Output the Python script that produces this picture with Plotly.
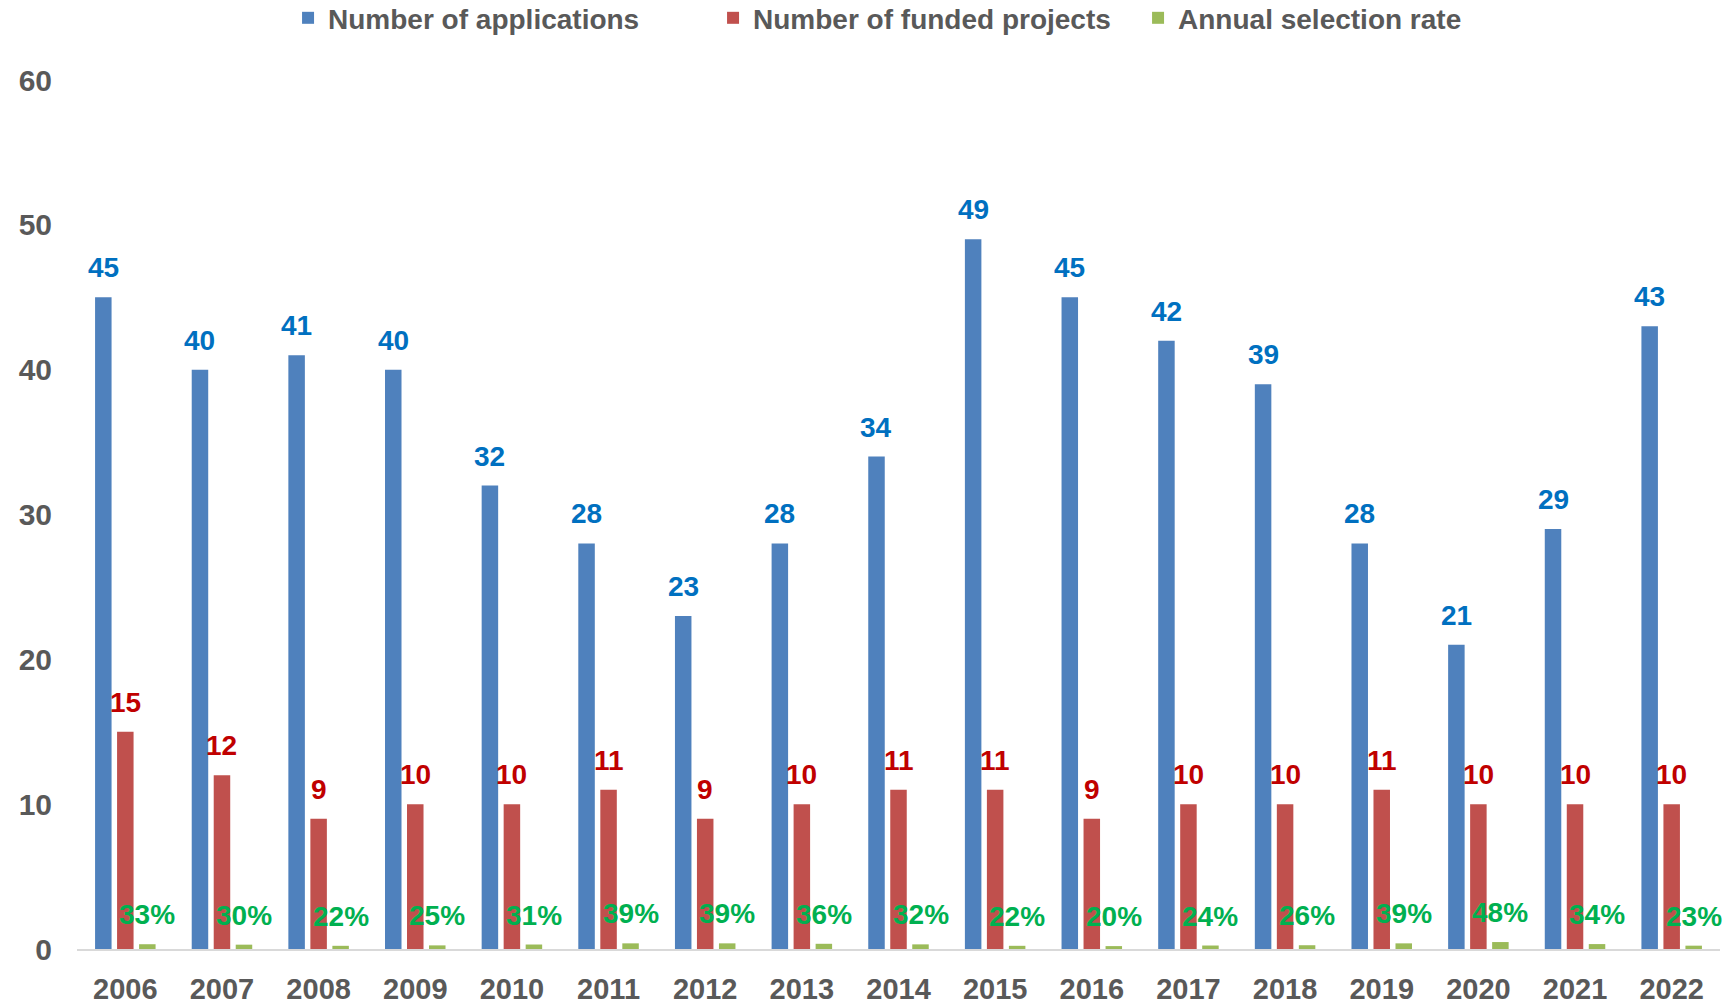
import plotly.graph_objects as go

years = ["2006", "2007", "2008", "2009", "2010", "2011", "2012", "2013", "2014",
         "2015", "2016", "2017", "2018", "2019", "2020", "2021", "2022"]
applications = [45, 40, 41, 40, 32, 28, 23, 28, 34, 49, 45, 42, 39, 28, 21, 29, 43]
funded = [15, 12, 9, 10, 10, 11, 9, 10, 11, 11, 9, 10, 10, 11, 10, 10, 10]
selection_rate = [0.33, 0.30, 0.22, 0.25, 0.31, 0.39, 0.39, 0.36, 0.32, 0.22, 0.20,
                  0.24, 0.26, 0.39, 0.48, 0.34, 0.23]
y_ticks = [0, 10, 20, 30, 40, 50, 60]

FONT = "Liberation Sans Narrow, Arial Narrow, Liberation Sans, sans-serif"
W, H = 1730, 1006
ML, MR, MT, MB = 77, 10, 80, 57
BARGAP, GROUPGAP = 0.317, 0.25

fig = go.Figure()
series = [
    ("Number of applications", applications, "#4F81BD"),
    ("Number of funded projects", funded, "#C0504D"),
    ("Annual selection rate", selection_rate, "#9BBB59"),
]
for name, vals, col in series:
    fig.add_trace(go.Bar(x=years, y=vals, name=name, marker=dict(color=col, line=dict(width=0)),
                         hoverinfo="skip"))

# label positions derived from layout geometry
plot_w = W - ML - MR
cat_px = plot_w / len(years)
slot_px = cat_px * (1 - BARGAP) / 3
label_specs = [
    (applications, [str(v) for v in applications], "#0070C0", -slot_px, 12),
    (funded, [str(v) for v in funded], "#C00000", 0, 12),
    (selection_rate, [f"{round(v*100)}%" for v in selection_rate], "#00B050", slot_px, 12),
]
annotations = []
for vals, texts, col, xs, ys in label_specs:
    for i, (v, t) in enumerate(zip(vals, texts)):
        annotations.append(dict(x=i, y=v, xref="x", yref="y", text=t, showarrow=False,
                                xanchor="center", yanchor="bottom", xshift=xs, yshift=ys,
                                font=dict(family=FONT, size=28, color=col, weight="bold")))

fig.update_layout(
    width=W, height=H,
    margin=dict(l=ML, r=MR, t=MT, b=MB, pad=0, autoexpand=False),
    paper_bgcolor="white", plot_bgcolor="white",
    barmode="group", bargap=BARGAP, bargroupgap=GROUPGAP,
    font=dict(family=FONT, size=28, color="#595959", weight="bold"),
    legend=dict(orientation="h", xref="container", yref="container", x=0.535, y=0.982,
                xanchor="center", yanchor="middle", entrywidth=380,
                font=dict(family=FONT, size=28, color="#595959", weight="bold"),
                itemwidth=30, tracegroupgap=0, traceorder="normal"),
    xaxis=dict(type="category", range=[-0.5, len(years) - 0.5], showgrid=False,
               showline=True, linecolor="#D9D9D9", linewidth=2, ticks="",
               ticklabelstandoff=13, automargin=False,
               tickfont=dict(family=FONT, size=29, color="#595959", weight="bold")),
    yaxis=dict(range=[0, 60], tickvals=y_ticks, showgrid=False, zeroline=False,
               showline=False, ticks="", ticklabelstandoff=24, automargin=False,
               tickfont=dict(family=FONT, size=30, color="#595959", weight="bold")),
    annotations=annotations,
    showlegend=True,
)

fig.write_html("out.html", config={"displayModeBar": False},
               post_script="document.body.style.margin='0';")
